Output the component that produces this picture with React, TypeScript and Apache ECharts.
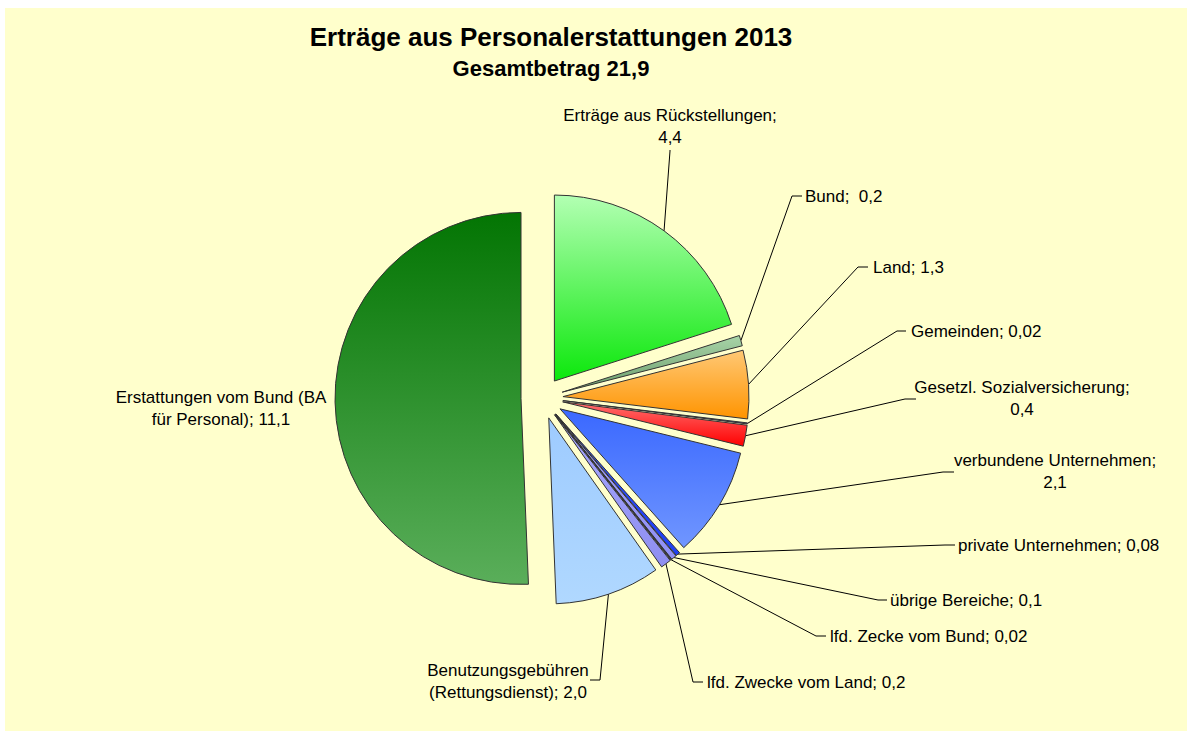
import React, { useEffect, useRef } from 'react';
import * as echarts from 'echarts';

const categories = [
  'Erträge aus Rückstellungen',
  'Bund',
  'Land',
  'Gemeinden',
  'Gesetzl. Sozialversicherung',
  'verbundene Unternehmen',
  'private Unternehmen',
  'übrige Bereiche',
  'lfd. Zecke vom Bund',
  'lfd. Zwecke vom Land',
  'Benutzungsgebühren (Rettungsdienst)',
  'Erstattungen vom Bund (BA für Personal)',
];
const values = [4.4, 0.2, 1.3, 0.02, 0.4, 2.1, 0.08, 0.1, 0.02, 0.2, 2.0, 11.1];
const labelTexts = [
  'Erträge aus Rückstellungen;\n4,4',
  'Bund;  0,2',
  'Land; 1,3',
  'Gemeinden; 0,02',
  'Gesetzl. Sozialversicherung;\n0,4',
  'verbundene Unternehmen;\n2,1',
  'private Unternehmen; 0,08',
  'übrige Bereiche; 0,1',
  'lfd. Zecke vom Bund; 0,02',
  'lfd. Zwecke vom Land; 0,2',
  'Benutzungsgebühren\n(Rettungsdienst); 2,0',
  'Erstattungen vom Bund (BA\nfür Personal); 11,1',
];
const titleText = 'Erträge aus Personalerstattungen 2013';
const subtitleText = 'Gesamtbetrag 21,9';

// gradient colours (top, bottom) per slice
const sliceColors: [string, string][] = [
  ['#B3FFB3', '#0CE80C'],
  ['#A8D4A8', '#6A9C6A'],
  ['#FFC875', '#FF9400'],
  ['#5A5AA0', '#333380'],
  ['#FF7070', '#FF0000'],
  ['#3A68FF', '#7096FF'],
  ['#2F50FF', '#2040F0'],
  ['#A0A0FF', '#9090F5'],
  ['#303070', '#202050'],
  ['#A8A8FF', '#8E8EF0'],
  ['#9ECBFF', '#B0D8FF'],
  ['#037503', '#5AAE5A'],
];

// label placement: x, y, align, tick end (ex, ey), elbow (bx, by); null = no line
const labelPlacement: { x: number; y: number; align: string; line: number[] | null }[] = [
  { x: 670, y: 126, align: 'center', line: [670, 150, 670, 151] },
  { x: 805, y: 196, align: 'left', line: [802, 196, 792, 196] },
  { x: 873, y: 267, align: 'left', line: [868, 267, 858, 267] },
  { x: 911, y: 331, align: 'left', line: [906, 331, 897, 331] },
  { x: 1022, y: 398, align: 'center', line: [916, 399, 905, 399] },
  { x: 1055, y: 471, align: 'center', line: [954, 472, 943, 472] },
  { x: 958, y: 545, align: 'left', line: [955, 545, 945, 545] },
  { x: 890, y: 600, align: 'left', line: [887, 600, 878, 600] },
  { x: 830, y: 636, align: 'left', line: [826, 636, 816, 636] },
  { x: 707, y: 682, align: 'left', line: [703, 682, 693, 682] },
  { x: 508, y: 681, align: 'center', line: [590, 680, 600, 680] },
  { x: 221, y: 408, align: 'center', line: null },
];

const FONT = '"Liberation Sans", Arial, Helvetica, sans-serif';
const CX = 542;
const CY = 398;
const R = 186;
const EXPLODE = 21;

export default function App() {
  const ref = useRef<HTMLDivElement>(null);
  useEffect(() => {
    if (!ref.current) return;
    const chart = echarts.init(ref.current, null, { renderer: 'svg' });
    const total = values.reduce((a, b) => a + b, 0);
    let cum = 0;
    const series = values.map((v, i) => {
      const mid = ((cum + v / 2) / total) * Math.PI * 2;
      cum += v;
      const center = [CX + EXPLODE * Math.sin(mid), CY - EXPLODE * Math.cos(mid)];
      const data = categories.map((name, j) =>
        j === i
          ? {
              name,
              value: values[j],
              itemStyle: {
                color: new echarts.graphic.LinearGradient(0, 0, 0, 1, [
                  { offset: 0, color: sliceColors[j][0] },
                  { offset: 1, color: sliceColors[j][1] },
                ]),
                borderColor: '#333333',
                borderWidth: 1,
              },
              label: { show: true },
              labelLine: { show: labelPlacement[j].line !== null },
            }
          : {
              name,
              value: values[j],
              itemStyle: { color: 'rgba(0,0,0,0)', borderWidth: 0 },
              label: { show: false },
              labelLine: { show: false },
            }
      );
      return {
        type: 'pie',
        name: categories[i],
        center,
        radius: [0, R],
        startAngle: 90,
        clockwise: true,
        silent: true,
        avoidLabelOverlap: false,
        minShowLabelAngle: 0,
        emphasis: { disabled: true },
        label: {
          position: 'outside',
          color: '#000',
          fontSize: 17,
          fontFamily: FONT,
          lineHeight: 22,
          formatter: (p: any) => labelTexts[p.dataIndex],
        },
        labelLine: {
          smooth: false,
          length: 10,
          length2: 10,
          lineStyle: { color: '#000', width: 1 },
        },
        labelLayout: (params: any) => {
          if (params.dataIndex !== i) return {};
          const L = labelPlacement[i];
          const out: any = { x: L.x, y: L.y, align: L.align, verticalAlign: 'middle' };
          if (L.line && params.labelLinePoints) {
            const p0 = params.labelLinePoints[0];
            out.labelLinePoints = [
              [p0[0], p0[1]],
              [L.line[2], L.line[3]],
              [L.line[0], L.line[1]],
            ];
          }
          return out;
        },
        data,
      };
    });
    chart.setOption({
      animation: false,
      backgroundColor: '#FFFFFF',
      graphic: [
        {
          type: 'rect',
          z: -100,
          silent: true,
          shape: { x: 5, y: 8, width: 1182, height: 723 },
          style: { fill: '#FFFFCC' },
        },
        {
          type: 'text',
          z: 100,
          x: 551,
          y: 37,
          style: {
            text: titleText,
            fill: '#000',
            font: `bold 26px ${FONT}`,
            textAlign: 'center',
            textVerticalAlign: 'middle',
          },
        },
        {
          type: 'text',
          z: 100,
          x: 551,
          y: 68,
          style: {
            text: subtitleText,
            fill: '#000',
            font: `bold 22px ${FONT}`,
            textAlign: 'center',
            textVerticalAlign: 'middle',
          },
        },
      ],
      series,
    });
    return () => chart.dispose();
  }, []);
  return (
    <div
      ref={ref}
      style={{ position: 'absolute', left: 0, top: 0, width: 1187, height: 731 }}
    />
  );
}
